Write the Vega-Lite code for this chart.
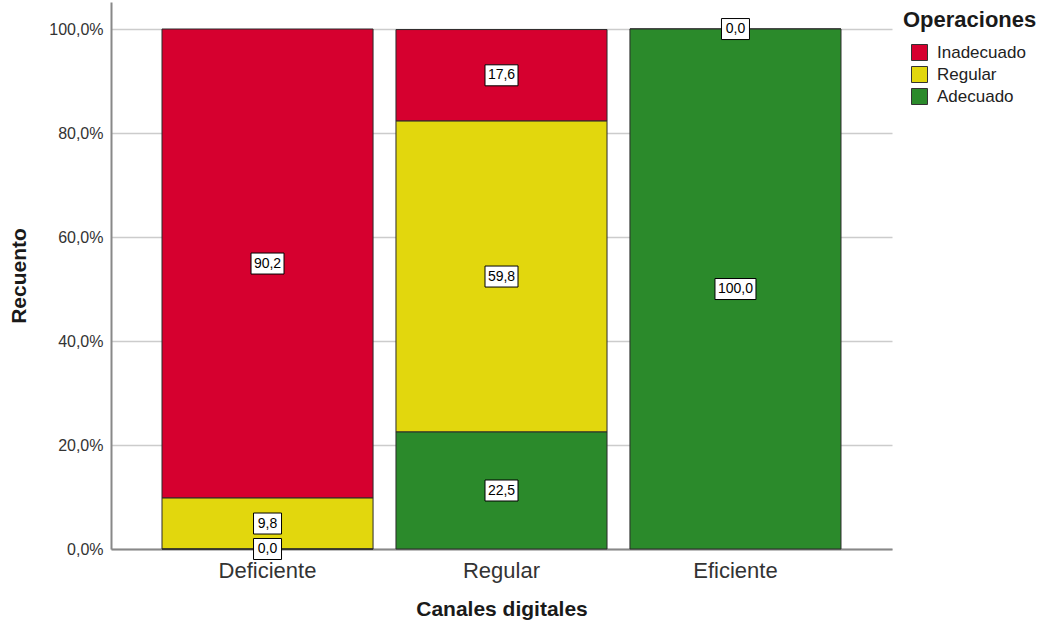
{
  "$schema": "https://vega.github.io/schema/vega-lite/v6.json",
  "width": 781,
  "height": 547,
  "autosize": {"type": "none"},
  "padding": {"left": 111, "top": 2, "right": 151, "bottom": 74},
  "background": "white",
  "config": {"view": {"stroke": null}, "font": "Liberation Sans"},
  "data": {
    "values": [
      {"canal": "Deficiente", "op": "Inadecuado", "value": 90.2},
      {"canal": "Deficiente", "op": "Regular", "value": 9.8},
      {"canal": "Deficiente", "op": "Adecuado", "value": 0.0},
      {"canal": "Regular", "op": "Inadecuado", "value": 17.6},
      {"canal": "Regular", "op": "Regular", "value": 59.8},
      {"canal": "Regular", "op": "Adecuado", "value": 22.5},
      {"canal": "Eficiente", "op": "Inadecuado", "value": 0.0},
      {"canal": "Eficiente", "op": "Adecuado", "value": 100.0}
    ]
  },
  "transform": [
    {"calculate": "indexof(['Adecuado','Regular','Inadecuado'], datum.op)", "as": "ord"},
    {"stack": "value", "groupby": ["canal"], "sort": [{"field": "ord", "order": "ascending"}], "as": ["y0", "y1"]},
    {"calculate": "(datum.y0 + datum.y1) / 2", "as": "mid"},
    {"calculate": "replace(format(datum.value, '.1f'), '.', ',')", "as": "label"},
    {"calculate": "'' + length(datum.label)", "as": "len"}
  ],
  "encoding": {
    "x": {
      "field": "canal",
      "type": "nominal",
      "sort": ["Deficiente", "Regular", "Eficiente"],
      "scale": {"paddingInner": 0.098, "paddingOuter": 0.218},
      "title": "Canales digitales",
      "axis": {
        "labelAngle": 0,
        "labelFontSize": 22,
        "labelColor": "#333333",
        "labelPadding": 11,
        "ticks": false,
        "grid": false,
        "domainColor": "#888888",
        "domainWidth": 2,
        "titleFontSize": 21,
        "titleFontWeight": "bold",
        "titleColor": "#1a1a1a",
        "titlePadding": 17
      }
    }
  },
  "layer": [
    {
      "mark": {"type": "bar", "stroke": "#2b2b2b", "strokeWidth": 1, "opacity": 1},
      "encoding": {
        "y": {
          "field": "y0",
          "type": "quantitative",
          "title": "Recuento",
          "scale": {"domain": [0, 105.2], "nice": false, "zero": true},
          "axis": {
            "values": [0, 20, 40, 60, 80, 100],
            "labelExpr": "replace(format(datum.value, '.1f'), '.', ',') + '%'",
            "labelFontSize": 16,
            "labelColor": "#333333",
            "labelPadding": 8,
            "ticks": false,
            "grid": true,
            "gridColor": "#cccccc",
            "gridWidth": 1.5,
            "domainColor": "#888888",
            "domainWidth": 2,
            "titleFontSize": 21,
            "titleFontWeight": "bold",
            "titleColor": "#1a1a1a",
            "titlePadding": 19
          }
        },
        "y2": {"field": "y1"},
        "color": {
          "field": "op",
          "type": "nominal",
          "scale": {
            "domain": ["Inadecuado", "Regular", "Adecuado"],
            "range": ["#D6002F", "#E2D70D", "#2B8A2B"]
          },
          "legend": {
            "title": "Operaciones",
            "orient": "none",
            "legendX": 792,
            "legendY": 8,
            "padding": 0,
            "titleFontSize": 22,
            "titleFontWeight": "bold",
            "titleColor": "#1a1a1a",
            "titlePadding": 12,
            "labelFontSize": 17,
            "labelColor": "#222222",
            "labelOffset": 9,
            "symbolType": "square",
            "symbolSize": 256,
            "symbolStrokeColor": "#333333",
            "symbolStrokeWidth": 1,
            "symbolOpacity": 1,
            "symbolOffset": 8,
            "rowPadding": 1
          }
        }
      }
    },
    {
      "mark": {"type": "point", "filled": true, "fill": "white", "stroke": "black", "strokeWidth": 1, "opacity": 1, "fillOpacity": 1, "size": 4},
      "encoding": {
        "y": {"field": "mid", "type": "quantitative", "title": "Recuento"},
        "shape": {
          "field": "len",
          "type": "nominal",
          "scale": {
            "domain": ["3", "4", "5"],
            "range": ["M-14,-10.5H14V10.5H-14Z", "M-16.5,-10.5H16.5V10.5H-16.5Z", "M-20.5,-10.5H20.5V10.5H-20.5Z"]
          },
          "legend": null
        }
      }
    },
    {
      "mark": {"type": "text", "fontSize": 14, "color": "black", "baseline": "middle", "align": "center"},
      "encoding": {
        "y": {"field": "mid", "type": "quantitative", "title": "Recuento"},
        "text": {"field": "label"}
      }
    }
  ]
}
